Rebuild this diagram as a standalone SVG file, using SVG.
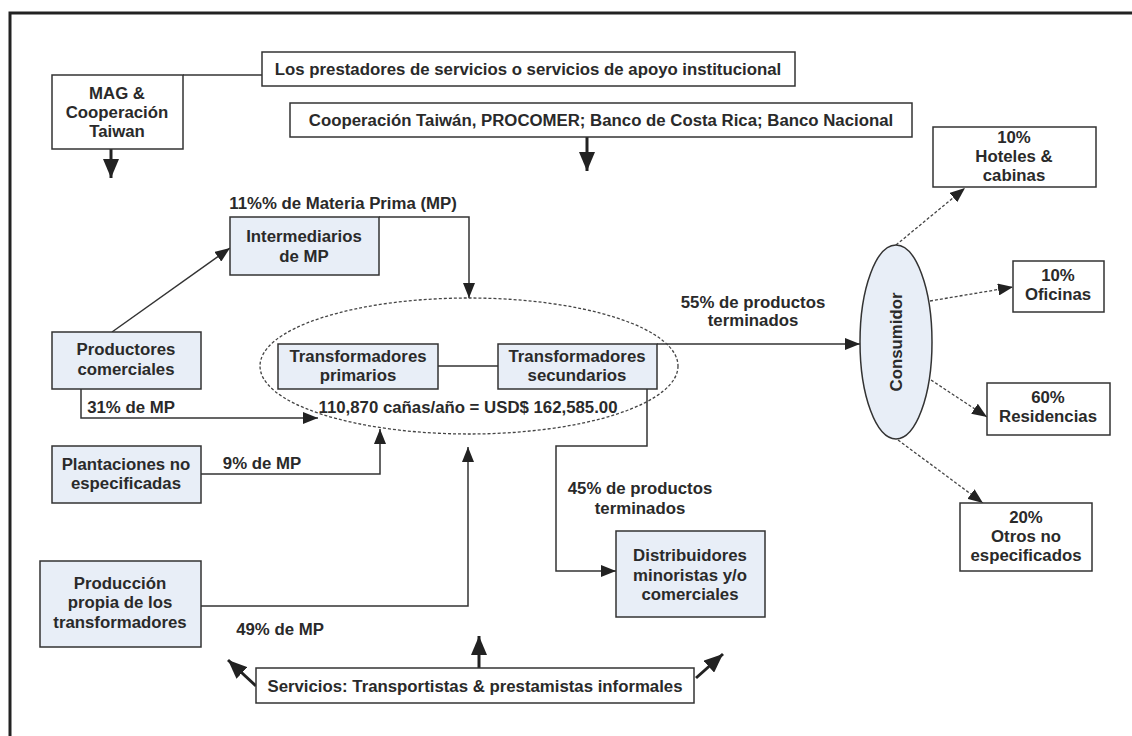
<svg xmlns="http://www.w3.org/2000/svg" width="1132" height="736" viewBox="0 0 1132 736">
<style>
text{font-family:"Liberation Sans",Arial,sans-serif;font-size:16.8px;font-weight:bold;fill:#2a2a2a;text-anchor:middle}
.w{fill:#fff;stroke:#333;stroke-width:1.5}
.b{fill:#e8eef7;stroke:#333;stroke-width:1.5}
.ln{fill:none;stroke:#333;stroke-width:1.5}
.th{fill:none;stroke:#222;stroke-width:3}
.ds{fill:none;stroke:#444;stroke-width:1.3;stroke-dasharray:3,2}
</style>
<defs>
<marker id="a" markerUnits="userSpaceOnUse" markerWidth="16" markerHeight="12" refX="15" refY="6" orient="auto"><path d="M0,0 L15,6 L0,12 z" fill="#222"/></marker>
<marker id="A" markerUnits="userSpaceOnUse" markerWidth="20" markerHeight="16" refX="19" refY="8" orient="auto"><path d="M0,0 L19,8 L0,16 z" fill="#222"/></marker>
</defs>
<rect x="10" y="13" width="1140" height="740" fill="#fff" stroke="#222" stroke-width="3"/>

<g id="connectors">
<path class="ln" d="M183,75 L262,75"/>
<path class="th" d="M111,149 L111,178" marker-end="url(#A)"/>
<path class="th" d="M587,137 L587,171" marker-end="url(#A)"/>
<path class="ln" d="M112,332 L230,248" marker-end="url(#a)"/>
<path class="ln" d="M379,217 L469,217 L469,298" marker-end="url(#a)"/>
<path class="ln" d="M81,389 L81,418 L318,418" marker-end="url(#a)"/>
<path class="ln" d="M201,474 L380,474 L380,429" marker-end="url(#a)"/>
<path class="ln" d="M201,606 L468,606 L468,447" marker-end="url(#a)"/>
<path class="ln" d="M438,366 L498,366"/>
<path class="ln" d="M657,344 L860,344" marker-end="url(#a)"/>
<path class="ln" d="M647,389 L647,446 L556,446 L556,571 L616,571" marker-end="url(#a)"/>
<path class="ds" d="M896,245 L965,188" marker-end="url(#a)"/>
<path class="ds" d="M930,301 L1013,287" marker-end="url(#a)"/>
<path class="ds" d="M931,380 L987,417" marker-end="url(#a)"/>
<path class="ds" d="M898,440 L983,503" marker-end="url(#a)"/>
<path class="th" d="M256,686 L228,660" marker-end="url(#A)"/>
<path class="th" d="M479,668 L479,636" marker-end="url(#A)"/>
<path class="th" d="M696,678 L723,654" marker-end="url(#A)"/>
</g>

<g id="apoyo"><rect class="w" x="262" y="52" width="533" height="34"/><text x="528" y="75">Los prestadores de servicios o servicios de apoyo institucional</text></g>
<g id="mag"><rect class="w" x="52" y="75" width="131" height="74"/><text x="117" y="99">MAG &amp;</text><text x="117" y="118">Cooperación</text><text x="117" y="137">Taiwan</text></g>
<g id="cooperacion"><rect class="w" x="290" y="103" width="622" height="34"/><text x="601" y="126">Cooperación Taiwán, PROCOMER; Banco de Costa Rica; Banco Nacional</text></g>
<text x="343" y="209">11%% de Materia Prima (MP)</text>
<g id="intermediarios"><rect class="b" x="230" y="217" width="149" height="58"/><text x="304" y="242">Intermediarios</text><text x="304" y="262">de MP</text></g>
<g id="transformadores"><ellipse cx="469" cy="366" rx="209" ry="68" fill="none" stroke="#444" stroke-width="1.3" stroke-dasharray="3,2"/>
<text x="468" y="413">110,870 cañas/año = USD$ 162,585.00</text></g>
<g id="primarios"><rect class="b" x="278" y="344" width="160" height="45"/><text x="358" y="362">Transformadores</text><text x="358" y="381">primarios</text></g>
<g id="secundarios"><rect class="b" x="498" y="344" width="159" height="45"/><text x="577" y="362">Transformadores</text><text x="577" y="381">secundarios</text></g>
<g id="productores"><rect class="b" x="52" y="332" width="149" height="57"/><text x="126" y="355">Productores</text><text x="126" y="375">comerciales</text></g>
<text x="131" y="413">31% de MP</text>
<g id="plantaciones"><rect class="b" x="52" y="446" width="149" height="57"/><text x="126" y="470">Plantaciones no</text><text x="126" y="489">especificadas</text></g>
<text x="262" y="469">9% de MP</text>
<g id="produccion"><rect class="b" x="40" y="561" width="161" height="86"/><text x="120" y="589">Producción</text><text x="120" y="608">propia de los</text><text x="120" y="628">transformadores</text></g>
<text x="280" y="635">49% de MP</text>
<text x="753" y="308">55% de productos</text><text x="753" y="326">terminados</text>
<text x="640" y="494">45% de productos</text><text x="640" y="514">terminados</text>
<g id="distribuidores"><rect class="b" x="616" y="531" width="149" height="86"/><text x="690" y="561">Distribuidores</text><text x="690" y="581">minoristas y/o</text><text x="690" y="600">comerciales</text></g>
<g id="servicios"><rect class="w" x="256" y="668" width="438" height="35"/><text x="475" y="692">Servicios: Transportistas &amp; prestamistas informales</text></g>
<g id="consumidor"><ellipse cx="896" cy="342" rx="36" ry="97" fill="#e8eef7" stroke="#333" stroke-width="1.5"/><text transform="translate(902,342) rotate(-90)">Consumidor</text></g>
<g id="hoteles"><rect class="w" x="933" y="127" width="163" height="60"/><text x="1014" y="143">10%</text><text x="1014" y="162">Hoteles &amp;</text><text x="1014" y="181">cabinas</text></g>
<g id="oficinas"><rect class="w" x="1013" y="261" width="91" height="51"/><text x="1058" y="281">10%</text><text x="1058" y="300">Oficinas</text></g>
<g id="residencias"><rect class="w" x="987" y="383" width="123" height="52"/><text x="1048" y="403">60%</text><text x="1048" y="422">Residencias</text></g>
<g id="otros"><rect class="w" x="960" y="503" width="132" height="68"/><text x="1026" y="523">20%</text><text x="1026" y="542">Otros no</text><text x="1026" y="561">especificados</text></g>
</svg>
